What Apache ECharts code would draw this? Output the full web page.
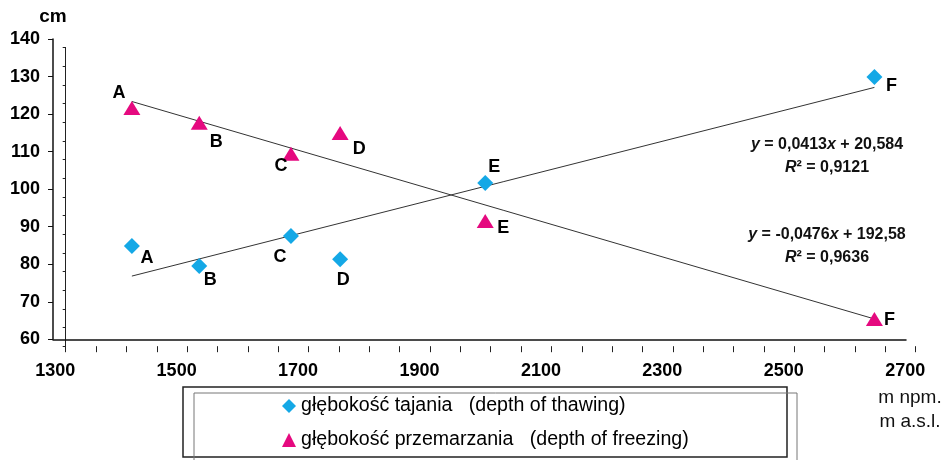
<!DOCTYPE html>
<html>
<head>
<meta charset="utf-8">
<script src="https://cdn.jsdelivr.net/npm/echarts@6/dist/echarts.min.js"></script>
<style>html,body{margin:0;padding:0;background:#fff}#c{width:943px;height:460px}</style>
</head>
<body>
<div id="c"></div>
<script>
// ---- data ----
const stations = ['A', 'B', 'C', 'D', 'E', 'F'];
const altitude = [1409, 1520, 1671, 1752, 1991, 2632];           // m a.s.l.
const thawing = [86.8, 81.5, 89.5, 83.3, 103.7, 132.1];          // cm
const freezing = [123.8, 119.8, 111.5, 117.1, 93.5, 67.3];       // cm
const thawTrend = { slope: 0.0413, intercept: 20.584, r2: '0,9121' };
const freezeTrend = { slope: -0.0476, intercept: 192.58, r2: '0,9636' };
const seriesNames = ['głębokość tajania   (depth of thawing)', 'głębokość przemarzania   (depth of freezing)'];
const yTicks = { min: 60, max: 140, step: 10 };
const xTicks = { min: 1300, max: 2700, step: 200 };

// ---- styling (not data) ----
const FONT = 'Liberation Sans, Arial, sans-serif';
const BLUE = '#14a8e6';
const PINK = '#e5097f';
const thawLabelOffset = [[15, 12], [11, 14], [-11, 21], [3, 21], [9, -16], [17, 9]];
const freezeLabelOffset = [[-13, -15], [17, 19], [-10, 12], [19, 16], [18, 7], [15, 1]];

function pointData(values, offsets) {
  return altitude.map((x, i) => ({
    value: [x, values[i]],
    name: stations[i],
    label: { offset: offsets[i] }
  }));
}
function trendData(t) {
  const x0 = altitude[0], x1 = altitude[altitude.length - 1];
  return [[x0, t.slope * x0 + t.intercept], [x1, t.slope * x1 + t.intercept]];
}
function fmt(n) { return String(n).replace('.', ','); }
function eqText(t) {
  const sign = t.intercept >= 0 ? '+' : '-';
  return '{i|y} = ' + fmt(t.slope) + '{i|x} ' + sign + ' ' + fmt(Math.abs(t.intercept));
}

const pointLabel = {
  show: true, position: 'inside', formatter: '{b}',
  color: '#000', fontFamily: FONT, fontSize: 18, fontWeight: 'bold', textBorderWidth: 0
};
const eqRich = { i: { fontStyle: 'italic', fontFamily: FONT, fontSize: 16, fontWeight: 'bold', fill: '#111' } };
const eqStyle = (text, x, y) => ({
  type: 'text', x: x, y: y,
  style: { text: text, fill: '#111', fontFamily: FONT, fontSize: 16, fontWeight: 'bold',
           align: 'center', verticalAlign: 'middle', rich: eqRich }
});
const legendBase = (name, icon, top) => ({
  orient: 'vertical', left: 277, top: top, itemWidth: 14, itemHeight: 14,
  data: [{ name: name, icon: icon }],
  textStyle: { color: '#000', fontFamily: FONT, fontSize: 19.6 }
});

const chart = echarts.init(document.getElementById('c'), null, { renderer: 'canvas' });
chart.setOption({
  backgroundColor: '#fff',
  animation: false,
  grid: [
    { left: 65.7, right: 27.3, top: 47.4, bottom: 113.8 },
    { left: 53, right: 37, top: 39, bottom: 120.7 }
  ],
  xAxis: [
    {
      gridIndex: 0, type: 'value', min: xTicks.min, max: xTicks.max, interval: xTicks.step,
      axisLine: { show: false },
      axisTick: { show: true, length: 6, lineStyle: { color: '#222', width: 1 } },
      minorTick: { show: true, splitNumber: 4, length: 6, lineStyle: { color: '#222', width: 1 } },
      splitLine: { show: false },
      axisLabel: { color: '#000', fontFamily: FONT, fontSize: 18, fontWeight: 'bold', margin: 16,
                   padding: [0, 21, 0, 0], formatter: v => String(v) }
    },
    {
      gridIndex: 1, type: 'value', min: 0, max: 1,
      axisLine: { show: true, lineStyle: { color: '#111', width: 1.5 } },
      axisTick: { show: false }, axisLabel: { show: false }, splitLine: { show: false }
    }
  ],
  yAxis: [
    {
      gridIndex: 0, type: 'value', min: yTicks.min, max: yTicks.max, interval: 5,
      axisLine: { show: true, lineStyle: { color: '#222', width: 1 } },
      axisTick: { show: true, length: 3, lineStyle: { color: '#222' } },
      axisLabel: { show: false }, splitLine: { show: false }
    },
    {
      gridIndex: 1, type: 'value', min: yTicks.min, max: yTicks.max, interval: yTicks.step,
      name: 'cm', nameLocation: 'end', nameGap: 13,
      nameTextStyle: { color: '#000', fontFamily: FONT, fontSize: 19, fontWeight: 'bold' },
      axisLine: { show: true, lineStyle: { color: '#111', width: 1.5 } },
      axisTick: { show: true, length: 5, lineStyle: { color: '#111', width: 1 } },
      axisLabel: { color: '#000', fontFamily: FONT, fontSize: 18, fontWeight: 'bold', margin: 13,
                   formatter: v => String(v) },
      splitLine: { show: false }
    }
  ],
  legend: [
    legendBase(seriesNames[0], 'diamond', 391),
    legendBase(seriesNames[1], 'triangle', 425)
  ],
  series: [
    {
      name: 'trend thaw', type: 'line', xAxisIndex: 0, yAxisIndex: 0, data: trendData(thawTrend),
      symbol: 'none', silent: true, lineStyle: { color: '#333', width: 1 }, z: 1
    },
    {
      name: 'trend freeze', type: 'line', xAxisIndex: 0, yAxisIndex: 0, data: trendData(freezeTrend),
      symbol: 'none', silent: true, lineStyle: { color: '#333', width: 1 }, z: 1
    },
    {
      name: seriesNames[0], type: 'scatter', xAxisIndex: 0, yAxisIndex: 0,
      symbol: 'diamond', symbolSize: 16, itemStyle: { color: BLUE, opacity: 1 },
      data: pointData(thawing, thawLabelOffset), label: pointLabel, z: 3
    },
    {
      name: seriesNames[1], type: 'scatter', xAxisIndex: 0, yAxisIndex: 0,
      symbol: 'triangle', symbolSize: [17, 14], itemStyle: { color: PINK, opacity: 1 },
      data: pointData(freezing, freezeLabelOffset), label: pointLabel, z: 3
    }
  ],
  graphic: [
    eqStyle(eqText(thawTrend), 827, 145),
    eqStyle('{i|R}² = ' + thawTrend.r2, 827, 168),
    eqStyle(eqText(freezeTrend), 827, 235),
    eqStyle('{i|R}² = ' + freezeTrend.r2, 827, 258),
    { type: 'text', x: 910, y: 398, style: { text: 'm npm.', fill: '#111', fontFamily: FONT, fontSize: 19, align: 'center', verticalAlign: 'middle' } },
    { type: 'text', x: 910, y: 422, style: { text: 'm a.s.l.', fill: '#111', fontFamily: FONT, fontSize: 19, align: 'center', verticalAlign: 'middle' } },
    { type: 'rect', shape: { x: 183, y: 387, width: 604, height: 70 }, style: { fill: 'none', stroke: '#222', lineWidth: 1.5 }, z: -1 },
    { type: 'polyline', shape: { points: [[194, 462], [194, 393], [797, 393], [797, 462]] }, style: { fill: 'none', stroke: '#777', lineWidth: 1 }, z: -1 }
  ]
});
</script>
</body>
</html>
